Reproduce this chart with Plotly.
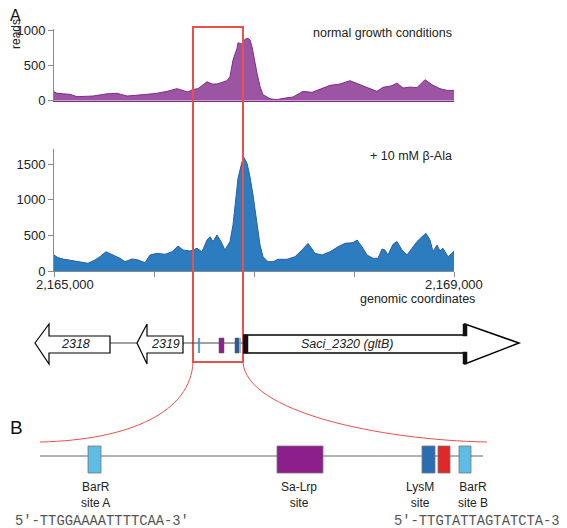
import plotly.graph_objects as go

# ---------------- data ----------------
normal_pos = [2165000, 2165030, 2165090, 2165160, 2165230, 2165290, 2165390, 2165530, 2165630, 2165730,
              2165830, 2165930, 2166030, 2166130, 2166230, 2166290, 2166340, 2166390, 2166440, 2166530,
              2166580, 2166630, 2166680, 2166730, 2166760, 2166790, 2166830, 2166840, 2166880, 2166910,
              2166940, 2166960, 2166980, 2166990, 2167010, 2167030, 2167060, 2167090, 2167160, 2167230,
              2167290, 2167390, 2167490, 2167580, 2167660, 2167760, 2167860, 2167960, 2168060, 2168140,
              2168230, 2168290, 2168380, 2168430, 2168490, 2168560, 2168630, 2168710, 2168780, 2168860,
              2168930, 2169000]
normal_reads = [127, 105, 97, 90, 57, 57, 66, 97, 105, 66,
                75, 90, 105, 132, 170, 150, 123, 160, 170, 268,
                236, 236, 264, 283, 340, 575, 740, 820, 800, 870,
                880, 860, 764, 670, 540, 390, 200, 85, 28, 14,
                33, 52, 132, 118, 165, 217, 236, 283, 226, 179,
                132, 189, 212, 250, 179, 193, 184, 297, 226, 170,
                146, 146]

ala_pos = [2165000, 2165040, 2165090, 2165160, 2165230, 2165290, 2165340, 2165410, 2165460, 2165520,
           2165590, 2165660, 2165710, 2165780, 2165840, 2165910, 2165960, 2166030, 2166110, 2166180,
           2166240, 2166290, 2166360, 2166430, 2166480, 2166530, 2166560, 2166590, 2166630, 2166670,
           2166710, 2166760, 2166790, 2166810, 2166840, 2166880, 2166900, 2166930, 2166960, 2166990,
           2167030, 2167060, 2167090, 2167140, 2167190, 2167240, 2167330, 2167410, 2167480, 2167540,
           2167610, 2167680, 2167760, 2167840, 2167910, 2167990, 2168030, 2168080, 2168130, 2168190,
           2168240, 2168280, 2168310, 2168340, 2168390, 2168430, 2168480, 2168530, 2168580, 2168630,
           2168680, 2168720, 2168760, 2168790, 2168830, 2168860, 2168890, 2168940, 2168980, 2169000]
ala_reads = [224, 187, 168, 150, 130, 122, 108, 155, 200, 270,
             224, 178, 131, 168, 155, 117, 224, 248, 234, 270,
             350, 294, 280, 318, 270, 434, 480, 412, 505, 412,
             294, 412, 645, 905, 1300, 1530, 1590, 1510, 1320, 1065,
             690, 364, 200, 131, 131, 164, 164, 200, 294, 388,
             248, 224, 270, 340, 388, 397, 434, 340, 224, 178,
             178, 308, 294, 224, 374, 412, 294, 224, 318, 412,
             480, 527, 434, 270, 364, 280, 318, 200, 248, 280]

x_ticks = [2165000, 2166000, 2167000, 2168000, 2169000]
x_end_labels = ["2,165,000", "2,169,000"]
top_yticks = [0, 500, 1000]
mid_yticks = [0, 500, 1000, 1500]

gene_names = ["2318", "2319", "Saci_2320 (gltB)"]
site_labels = ["BarR<br>site A", "Sa-Lrp<br>site", "LysM<br>site", "BarR<br>site B"]
sequences = ["5\u2032-TTGGAAAATTTTCAA-3\u2032", "5\u2032-TTGTATTAGTATCTA-3\u2032"]

# ---------------- helpers ----------------
W, H = 567, 528
OX, OY = 8, 8   # page offset of the plot div (body margin)
FONT = "Arial, Liberation Sans, sans-serif"


def px(x):
    return (x - OX) / W


def py(y):
    return 1 - (y - OY) / H


def path_str(points, close=True):
    s = "M " + " L ".join(f"{px(x):.5f},{py(y):.5f}" for x, y in points)
    return s + (" Z" if close else "")


shapes = []
annotations = []


def poly(points, fill="white", line="black", width=1.2, close=True, layer="above"):
    shapes.append(dict(type="path", xref="paper", yref="paper", path=path_str(points, close),
                       fillcolor=fill if close else None, line=dict(color=line, width=width), layer=layer))


def rect(x0, y0, x1, y1, fill, line="#777777", width=0.8):
    shapes.append(dict(type="rect", xref="paper", yref="paper", x0=px(x0), x1=px(x1), y0=py(y1), y1=py(y0),
                       fillcolor=fill, line=dict(color=line, width=width), layer="above"))


def lineseg(x0, y0, x1, y1, color="#555555", width=1):
    shapes.append(dict(type="line", xref="paper", yref="paper", x0=px(x0), x1=px(x1), y0=py(y0), y1=py(y1),
                       line=dict(color=color, width=width), layer="above"))


def text(x, y, s, size=12, color="#222222", xanchor="center", family=FONT, italic=False, angle=0):
    t = f"<i>{s}</i>" if italic else s
    annotations.append(dict(x=px(x), y=py(y), xref="paper", yref="paper", text=t, showarrow=False,
                            xanchor=xanchor, yanchor="middle", textangle=angle,
                            font=dict(size=size, color=color, family=family)))


# ---------------- figure ----------------
fig = go.Figure()
fig.add_trace(go.Scatter(x=normal_pos, y=normal_reads, mode="lines", fill="tozeroy",
                         line=dict(color="#7E2E86", width=1), fillcolor="#9C55A2",
                         xaxis="x", yaxis="y", showlegend=False, hoverinfo="skip"))
fig.add_trace(go.Scatter(x=ala_pos, y=ala_reads, mode="lines", fill="tozeroy",
                         line=dict(color="#2C5DA6", width=1), fillcolor="#2C7DC0",
                         xaxis="x2", yaxis="y2", showlegend=False, hoverinfo="skip"))

yax_common = dict(showgrid=False, zeroline=False, showline=True, linecolor="#8a8a8a", linewidth=1,
                  ticks="outside", ticklen=5, tickcolor="#8a8a8a", automargin=False,
                  tickfont=dict(size=13, family=FONT, color="#222"), fixedrange=True)

fig.update_layout(
    width=W, height=H, margin=dict(l=0, r=0, t=0, b=0, autoexpand=False),
    paper_bgcolor="white", plot_bgcolor="white",
    xaxis=dict(domain=[px(54), px(454)], range=[2165000, 2169000], showgrid=False, zeroline=False,
               showline=True, linecolor="#7E2E86", linewidth=1, showticklabels=False, ticks="",
               anchor="y", automargin=False),
    yaxis=dict(domain=[py(100.7), py(29)], range=[0, 1000 * (100.7 - 29) / 70.7],
               tickvals=top_yticks, anchor="x", **yax_common),
    xaxis2=dict(domain=[px(54), px(454)], range=[2165000, 2169000], showgrid=False, zeroline=False,
                showline=True, linecolor="#8a8a8a", linewidth=1, ticks="outside", ticklen=5,
                tickcolor="#8a8a8a", tickvals=x_ticks, showticklabels=False, anchor="y2", automargin=False),
    yaxis2=dict(domain=[py(271), py(149)], range=[0, 1500 * (271 - 149) / 107],
                tickvals=mid_yticks, anchor="x2", **yax_common),
)

# red zoom box and flaring curves
RED = "#E8514A"
shapes.append(dict(type="rect", xref="paper", yref="paper", x0=px(193), x1=px(243), y0=py(362), y1=py(27),
                   line=dict(color=RED, width=2), fillcolor="rgba(0,0,0,0)", layer="above"))
shapes.append(dict(type="path", xref="paper", yref="paper",
                   path=f"M {px(193)},{py(362)} C {px(191)},{py(412)} {px(130)},{py(440)} {px(40)},{py(442)}",
                   line=dict(color=RED, width=1), layer="above"))
shapes.append(dict(type="path", xref="paper", yref="paper",
                   path=f"M {px(243)},{py(362)} C {px(246)},{py(412)} {px(380)},{py(440)} {px(487)},{py(442)}",
                   line=dict(color=RED, width=1), layer="above"))

# gene map
lineseg(110, 343, 137, 343, "#444", 1)
lineseg(183, 343, 244, 343, "#444", 1)
poly([(35, 343), (49, 324), (49, 336), (110, 336), (110, 353), (49, 353), (49, 364)])
poly([(137, 343), (147, 324), (147, 336), (183, 336), (183, 353), (147, 353), (147, 364)])
poly([(244, 335), (465, 335), (465, 324), (519, 343), (465, 364), (465, 353), (244, 353)], width=1.5)
rect(244, 335, 248, 353, "#111111", "#111111", 0.5)
rect(463, 324, 467, 336, "#111111", "#111111", 0.5)
rect(463, 352, 467, 364, "#111111", "#111111", 0.5)
# small site markers in gene map
rect(198.2, 338, 199.8, 353, "#4A8FC0", "#4A8FC0", 0.3)
rect(219, 338, 224, 353, "#8E2090", "#555", 0.5)
rect(235, 338, 239, 353, "#2F5A95", "#555", 0.5)
rect(239.3, 338, 240.7, 353, "#5BB8E0", "#5BB8E0", 0.3)

# panel B
lineseg(40, 456, 483, 456, "#666666", 1)
rect(88, 446, 101, 473, "#5DBDE3")
rect(277, 446, 323, 473, "#8C1F8C")
rect(422, 446, 435, 473, "#2A6DB5")
rect(438, 446, 450, 473, "#E0282A")
rect(459, 446, 471, 473, "#5DBDE3")

fig.update_layout(shapes=shapes)

# ---------------- texts ----------------
text(8, 15, "A", size=16, xanchor="left", color="#111")
text(8, 427, "B", size=19, xanchor="left", color="#111")
text(16, 34, "reads", size=12, angle=-90)
text(454, 33, "normal growth conditions", size=12.5, xanchor="right")
text(454, 156, "+ 10 mM \u03b2-Ala", size=12.5, xanchor="right")
text(65, 284, x_end_labels[0], size=13)
text(454, 284, x_end_labels[1], size=13)
text(477, 299, "genomic coordinates", size=12.5, xanchor="right")
text(75, 344, gene_names[0], size=12.5, italic=True)
text(165, 344, gene_names[1], size=12.5, italic=True)
text(347, 344, gene_names[2], size=12.5, italic=True)
for cx, lab in zip([95, 299, 420, 473], site_labels):
    text(cx, 495, lab, size=12)
MONO = "Liberation Mono, Courier New, monospace"
text(13, 521, sequences[0], size=13.8, color="#555", xanchor="left", family=MONO)
text(392, 521, sequences[1], size=13.8, color="#555", xanchor="left", family=MONO)

fig.update_layout(annotations=annotations)
fig.write_html("out.html")
